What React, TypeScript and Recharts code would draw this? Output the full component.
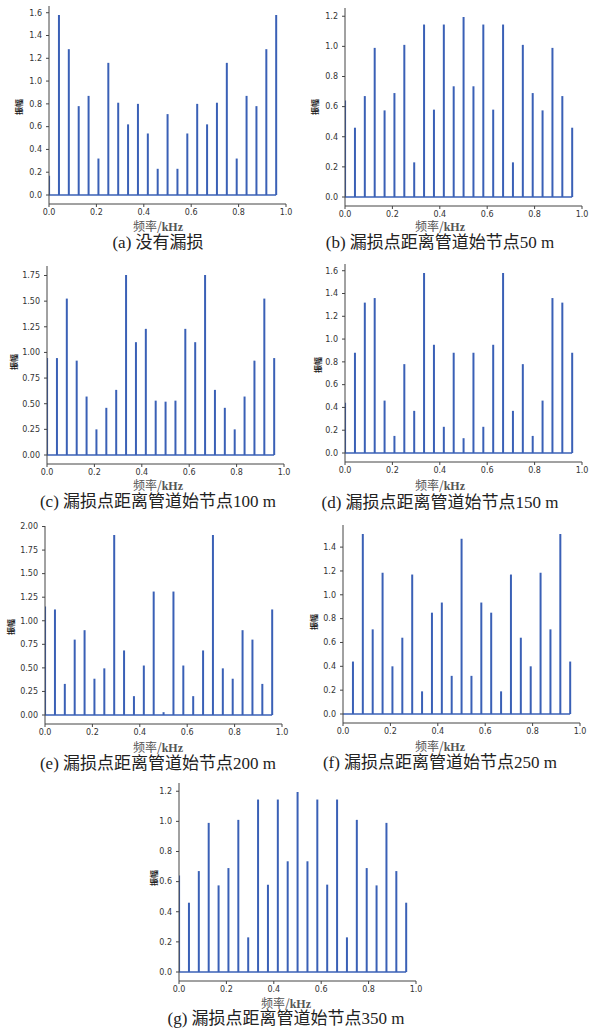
import React from 'react';
import { ComposedChart, Bar, XAxis, YAxis, ReferenceLine } from 'recharts';

// frequency bins (kHz), 24 bins over 0..1
const freqs = [0, 0.0417, 0.0833, 0.125, 0.1667, 0.2083, 0.25, 0.2917, 0.3333, 0.375, 0.4167, 0.4583,
  0.5, 0.5417, 0.5833, 0.625, 0.6667, 0.7083, 0.75, 0.7917, 0.8333, 0.875, 0.9167, 0.9583];

const ampNoLeak = [0.17, 1.58, 1.28, 0.78, 0.87, 0.32, 1.16, 0.81, 0.62, 0.8, 0.54, 0.23,
  0.71, 0.23, 0.54, 0.8, 0.62, 0.81, 1.16, 0.32, 0.87, 0.78, 1.28, 1.58];
const amp50 = [0.64, 0.46, 0.67, 0.99, 0.575, 0.69, 1.01, 0.23, 1.145, 0.58, 1.145, 0.735,
  1.195, 0.735, 1.145, 0.58, 1.145, 0.23, 1.01, 0.69, 0.575, 0.99, 0.67, 0.46];
const amp100 = [0.945, 0.945, 1.525, 0.92, 0.57, 0.25, 0.46, 0.635, 1.755, 1.1, 1.23, 0.53,
  0.52, 0.53, 1.23, 1.1, 1.755, 0.635, 0.46, 0.25, 0.57, 0.92, 1.525, 0.945];
const amp150 = [0.44, 0.88, 1.32, 1.36, 0.46, 0.15, 0.78, 0.37, 1.58, 0.95, 0.23, 0.88,
  0.13, 0.88, 0.23, 0.95, 1.58, 0.37, 0.78, 0.15, 0.46, 1.36, 1.32, 0.88];
const amp200 = [1.15, 1.12, 0.33, 0.8, 0.9, 0.385, 0.495, 1.91, 0.685, 0.2, 0.525, 1.31,
  0.03, 1.31, 0.525, 0.2, 0.685, 1.91, 0.495, 0.385, 0.9, 0.8, 0.33, 1.12];
const amp250 = [0, 0.44, 1.51, 0.71, 1.185, 0.4, 0.64, 1.17, 0.19, 0.85, 0.935, 0.32,
  1.47, 0.32, 0.935, 0.85, 0.19, 1.17, 0.64, 0.4, 1.185, 0.71, 1.51, 0.44];
const amp350 = [0.64, 0.46, 0.67, 0.99, 0.575, 0.69, 1.01, 0.23, 1.145, 0.58, 1.145, 0.735,
  1.195, 0.735, 1.145, 0.58, 1.145, 0.23, 1.01, 0.69, 0.575, 0.99, 0.67, 0.46];

const xTicks = [0, 0.2, 0.4, 0.6, 0.8, 1.0];
const ticks16 = [0, 0.2, 0.4, 0.6, 0.8, 1.0, 1.2, 1.4, 1.6];
const ticks12 = [0, 0.2, 0.4, 0.6, 0.8, 1.0, 1.2];
const ticks14 = [0, 0.2, 0.4, 0.6, 0.8, 1.0, 1.2, 1.4];
const ticks175 = [0, 0.25, 0.5, 0.75, 1.0, 1.25, 1.5, 1.75];
const ticks200 = [0, 0.25, 0.5, 0.75, 1.0, 1.25, 1.5, 1.75, 2.0];

const captions = [
  '(a) 没有漏损',
  '(b) 漏损点距离管道始节点50 m',
  '(c) 漏损点距离管道始节点100 m',
  '(d) 漏损点距离管道始节点150 m',
  '(e) 漏损点距离管道始节点200 m',
  '(f) 漏损点距离管道始节点250 m',
  '(g) 漏损点距离管道始节点350 m',
];

const STEM = '#3a60b6';
const AXIS = '#444';
const PLOT_W = 237;
const PLOT_H = 198;

// where each plot area sits on the page
const panels = [
  { amps: ampNoLeak, yTicks: ticks16, digits: 1, caption: captions[0], left: 49, top: 6, cx: 158, yLabX: 18, yLabY: 107, xLabY: 226, capY: 242 },
  { amps: amp50, yTicks: ticks12, digits: 1, caption: captions[1], left: 345, top: 8, cx: 440, yLabX: 314, yLabY: 107, xLabY: 226, capY: 242 },
  { amps: amp100, yTicks: ticks175, digits: 2, caption: captions[2], left: 47, top: 266, cx: 158, yLabX: 13, yLabY: 362, xLabY: 485, capY: 501 },
  { amps: amp150, yTicks: ticks16, digits: 1, caption: captions[3], left: 345, top: 264, cx: 440, yLabX: 317, yLabY: 365, xLabY: 485, capY: 502 },
  { amps: amp200, yTicks: ticks200, digits: 2, caption: captions[4], left: 45, top: 526, cx: 158, yLabX: 10, yLabY: 627, xLabY: 747, capY: 763 },
  { amps: amp250, yTicks: ticks14, digits: 1, caption: captions[5], left: 343, top: 525, cx: 440, yLabX: 313, yLabY: 622, xLabY: 746, capY: 762 },
  { amps: amp350, yTicks: ticks12, digits: 1, caption: captions[6], left: 179, top: 783, cx: 286, yLabX: 153, yLabY: 878, xLabY: 1003, capY: 1018 },
];

const tickStyle = { fontSize: 8, fill: '#333', fontFamily: 'DejaVu Sans' };

function StemPanel({ p }: { p: any }) {
  const data = freqs.map((f, i) => ({ f, amp: p.amps[i] }));
  const max = Math.max(...p.amps);
  const ML = 40, MT = 8, MR = 12, MB = 22;

  return (
    <>
      <div style={{ position: 'absolute', left: p.left - ML, top: p.top - MT }}>
        <ComposedChart
          width={ML + PLOT_W + MR}
          height={MT + PLOT_H + MB}
          data={data}
          margin={{ top: MT, right: MR, bottom: 0, left: 0 }}
        >
          <XAxis
            dataKey="f"
            type="number"
            domain={[0, 1]}
            ticks={xTicks}
            tickFormatter={(v: number) => v.toFixed(1)}
            height={MB}
            stroke={AXIS}
            tick={tickStyle}
            tickSize={3}
            tickMargin={2}
            allowDataOverflow
          />
          <YAxis
            type="number"
            domain={[-0.05 * max, 1.05 * max]}
            ticks={p.yTicks}
            tickFormatter={(v: number) => v.toFixed(p.digits)}
            width={ML}
            stroke={AXIS}
            tick={tickStyle}
            tickSize={3}
            tickMargin={4}
            allowDataOverflow
          />
          <Bar dataKey="amp" barSize={2} fill={STEM} isAnimationActive={false} />
          <ReferenceLine
            segment={[{ x: 0, y: 0 }, { x: freqs[freqs.length - 1], y: 0 }]}
            stroke={STEM}
            strokeWidth={1.6}
          />
        </ComposedChart>
      </div>
      <div style={{
        position: 'absolute', left: p.yLabX, top: p.yLabY,
        transform: 'translate(-50%, -50%) rotate(-90deg)',
        fontFamily: '"Noto Sans CJK SC"', fontSize: 8, fontWeight: 700, color: '#222', whiteSpace: 'nowrap',
      }}>振幅</div>
      <div style={{
        position: 'absolute', left: p.cx, top: p.xLabY,
        transform: 'translate(-50%, -50%)', whiteSpace: 'nowrap', color: '#555', fontSize: 12, lineHeight: 1,
      }}>
        <span style={{ fontFamily: '"Noto Sans CJK SC"' }}>频率/</span>
        <span style={{ fontFamily: '"Liberation Serif"', fontWeight: 700 }}>kHz</span>
      </div>
      <div style={{
        position: 'absolute', left: p.cx, top: p.capY,
        transform: 'translate(-50%, -50%)', whiteSpace: 'nowrap', color: '#222', fontSize: 17, lineHeight: 1,
        fontFamily: '"Liberation Serif", "Noto Sans CJK SC"',
      }}>{p.caption}</div>
    </>
  );
}

export default function App() {
  return (
    <div style={{ position: 'absolute', left: 0, top: 0, width: 596, height: 1032, background: '#fff', overflow: 'hidden' }}>
      {panels.map((p, i) => <StemPanel key={i} p={p} />)}
    </div>
  );
}
